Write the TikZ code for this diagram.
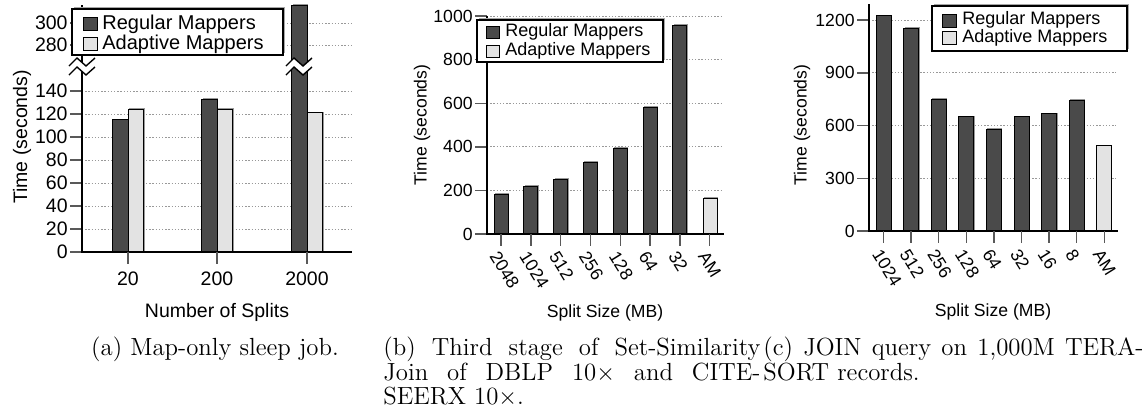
\documentclass[tikz,border=0pt]{standalone}
\usepackage{fontspec}
\usepackage{tikz}
\usetikzlibrary{shadows}
\newfontfamily\chartfont{Liberation Sans}

\definecolor{regular}{gray}{0.29}
\definecolor{adaptive}{gray}{0.89}

\tikzset{
  darkbar/.style={draw=black, line width=0.5pt, fill=regular,
    general shadow={shadow xshift=0.5pt, shadow yshift=0.5pt, fill=black!40}},
  lightbar/.style={draw=black, line width=0.5pt, fill=adaptive,
    general shadow={shadow xshift=0.5pt, shadow yshift=0.5pt, fill=black!40}},
  gridline/.style={black!40, line width=0.4pt, dash pattern=on 0.7pt off 0.9pt},
  axisline/.style={black, line width=0.7pt},
  tickline/.style={black!65, line width=0.7pt},
  legendbox/.style={draw=black, line width=0.6pt, fill=white,
    general shadow={shadow xshift=1pt, shadow yshift=1pt, fill=black!35}},
  swatch/.style={draw=black, line width=0.5pt, minimum width=7pt, minimum height=6.5pt, inner sep=0pt},
  labelA/.style={font=\chartfont\fontsize{9.75}{11}\selectfont, inner sep=0pt},
  labelB/.style={font=\chartfont\fontsize{8.8}{10}\selectfont, inner sep=0pt},
  legendA/.style={font=\chartfont\fontsize{10}{11}\selectfont, inner sep=0pt, anchor=west},
  legendB/.style={font=\chartfont\fontsize{9}{10}\selectfont, inner sep=0pt, anchor=west},
  caption/.style={font=\fontsize{12.4}{11.7}\selectfont, inner sep=0pt, anchor=north west, align=justify}
}

\newcommand{\splitmark}[2]{%
  \fill[white] (#1-13,#2+4) -- (#1-5,#2-4) -- (#1+4,#2+4) -- (#1+13,#2-4)
    -- (#1+13,#2+5) -- (#1+4,#2+13) -- (#1-5,#2+5) -- (#1-13,#2+13) -- cycle;
  \draw[axisline] (#1-13,#2+4) -- (#1-5,#2-4) -- (#1+4,#2+4) -- (#1+13,#2-4);
  \draw[axisline] (#1-13,#2+13) -- (#1-5,#2+5) -- (#1+4,#2+13) -- (#1+13,#2+5);
}

\begin{document}
\begin{tikzpicture}[x=0.5pt, y=-0.5pt]
\useasboundingbox (0,0) rectangle (1145,408);

% (a) sleep job
\foreach \v in {0,20,...,140} {
  \draw[gridline] (82,252-1.15*\v) -- (352,252-1.15*\v);
  \draw[tickline] (70,252-1.15*\v) -- (82,252-1.15*\v);
  \node[labelA, anchor=east] at (68,252-1.15*\v) {\v};
}
\foreach \v/\y in {280/45, 300/23} {
  \draw[gridline] (82,\y) -- (352,\y);
  \draw[tickline] (70,\y) -- (82,\y);
  \node[labelA, anchor=east] at (68,\y) {\v};
}
\foreach \c/\r/\a in {128/115/124, 217/133/124} {
  \draw[darkbar] (\c-15.5,252) rectangle (\c,252-1.15*\r);
  \draw[lightbar] (\c,252) rectangle (\c+15.5,252-1.15*\a);
}
\draw[darkbar] (291.5,252) rectangle (307,5);
\draw[lightbar] (307,252) rectangle (322.5,252-1.15*121);
\draw[axisline] (82,5) -- (82,252) -- (352,252);
\foreach \c/\lab in {128/20, 217/200, 307/2000} {
  \draw[tickline] (\c,252) -- (\c,264);
  \node[labelA] at (\c,279) {\lab};
}
\splitmark{82}{62}
\splitmark{299}{62}
\draw[legendbox] (72,9) rectangle (283,55);
\node[swatch, fill=regular] (swA1) at (90,24) {};
\node[legendA] (legA1) at (102,24) {Regular Mappers};
\node[swatch, fill=adaptive] (swA2) at (90,44) {};
\node[legendA] (legA2) at (102,44) {Adaptive Mappers};
\node[labelA, rotate=90] (ylabA) at (22,137) {Time (seconds)};
\node[labelA] (xlabA) at (217,312) {Number of Splits};

% (b) set-similarity join
\foreach \v in {0,200,...,1000} {
  \draw[gridline] (487,234-0.218*\v) -- (723,234-0.218*\v);
  \draw[tickline] (475,234-0.218*\v) -- (487,234-0.218*\v);
  \node[labelB, anchor=east] at (473,234-0.218*\v) {\v};
}
\foreach \lab/\v [count=\i from 0] in {2048/183, 1024/220, 512/252, 256/330, 128/394, 64/582, 32/958} {
  \draw[darkbar] (501+29.8*\i-7,234) rectangle (501+29.8*\i+7,234-0.218*\v);
}
\draw[lightbar] (703,234) rectangle (717,234-0.218*165);
\draw[axisline] (487,16) -- (487,234) -- (724,234);
\foreach \lab [count=\i from 0] in {2048, 1024, 512, 256, 128, 64, 32, AM} {
  \draw[tickline] (501+29.8*\i,234) -- (501+29.8*\i,246);
  \node[labelB, rotate=-58, anchor=west] at (501+29.8*\i-7,253) {\lab};
}
\draw[legendbox] (477,20) rectangle (663,62);
\node[swatch, fill=regular, minimum width=6.5pt, minimum height=6pt] (swB1) at (492.5,32) {};
\node[legendB] (legB1) at (505,32) {Regular Mappers};
\node[swatch, fill=adaptive, minimum width=6.5pt, minimum height=6pt] (swB2) at (492.5,51) {};
\node[legendB] (legB2) at (505,51) {Adaptive Mappers};
\node[labelB, rotate=90] (ylabB) at (422,125) {Time (seconds)};
\node[labelB] (xlabB) at (605,313) {Split Size (MB)};

% (c) join query
\foreach \v in {0,300,...,1200} {
  \draw[gridline] (869,231-0.1757*\v) -- (1116,231-0.1757*\v);
  \draw[tickline] (857,231-0.1757*\v) -- (869,231-0.1757*\v);
  \node[labelB, anchor=east] at (855,231-0.1757*\v) {\v};
}
\foreach \lab/\v [count=\i from 0] in {1024/1224, 512/1155, 256/751, 128/649, 64/580, 32/649, 16/666, 8/745} {
  \draw[darkbar] (883.5+27.6*\i-7.5,231) rectangle (883.5+27.6*\i+7.5,231-0.1757*\v);
}
\draw[lightbar] (1096.3,231) rectangle (1111.3,231-0.1757*484);
\draw[axisline] (869,4) -- (869,231) -- (1118,231);
\foreach \lab [count=\i from 0] in {1024, 512, 256, 128, 64, 32, 16, 8, AM} {
  \draw[tickline] (883.5+27.6*\i,231) -- (883.5+27.6*\i,243);
  \node[labelB, rotate=-58, anchor=west] at (883.5+27.6*\i-7,251) {\lab};
}
\draw[legendbox] (932,6) rectangle (1127,51);
\node[swatch, fill=regular] (swC1) at (949.5,20.5) {};
\node[legendB] (legC1) at (962,20) {Regular Mappers};
\node[swatch, fill=adaptive] (swC2) at (949.5,37.5) {};
\node[legendB] (legC2) at (962,38) {Adaptive Mappers};
\node[labelB, rotate=90] (ylabC) at (802,125) {Time (seconds)};
\node[labelB] (xlabC) at (993,312) {Split Size (MB)};

% captions
\node[caption, anchor=north, align=center] (capA) at (215,336) {(a) Map-only sleep job.};
\node[caption, text width=188.5pt] (capB) at (383,336)
  {(b) Third stage of Set-Similarity\linebreak Join of DBLP 10$\times$ and CITE-\linebreak SEERX 10$\times$.};
\node[caption, text width=190pt] (capC) at (763,336)
  {(c) JOIN query on 1,000M TERA-\linebreak SORT records.};
\end{tikzpicture}
\end{document}
